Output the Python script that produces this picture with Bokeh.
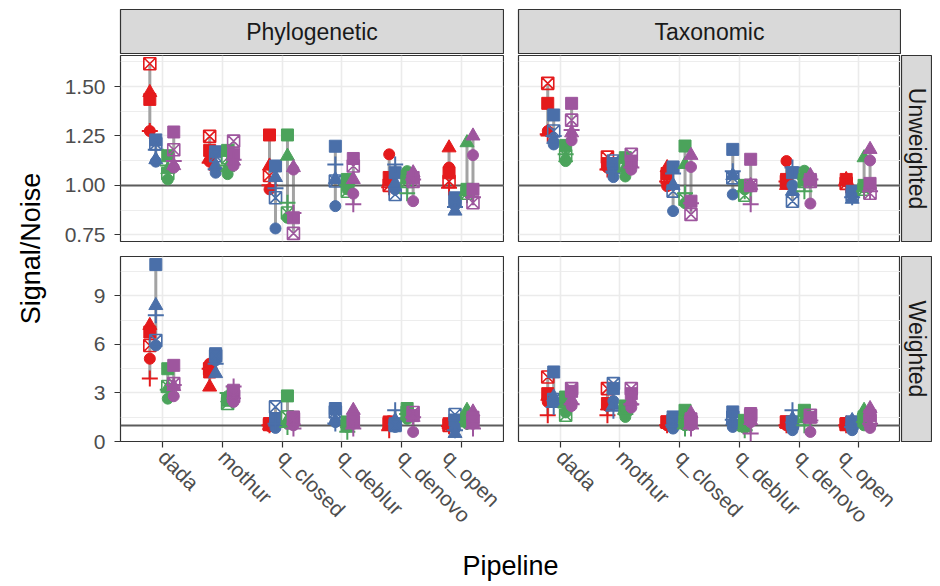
import math
import numpy as np
from bokeh.plotting import figure
from bokeh.models import (ColumnDataSource, FactorRange, Range1d, FixedTicker,
                          CategoricalTicker, Spacer, Label)
from bokeh.transform import dodge
from bokeh.layouts import row, column
from bokeh.embed import file_html
from bokeh.resources import INLINE

nan = float("nan")

pipelines = ["dada", "mothur", "q_closed", "q_deblur", "q_denovo", "q_open"]
metrics = ["Phylogenetic", "Taxonomic"]
weightings = ["Unweighted", "Weighted"]

# ---------------- Phylogenetic / Unweighted ----------------
PU_red_circle   = [1.275, 1.12, 0.98, nan, 1.157, 1.09]
PU_red_triangle = [1.47, 1.14, 1.098, nan, 1.02, 1.19]
PU_red_square   = [1.435, 1.177, 1.255, nan, 1.04, 1.064]
PU_red_plus     = [1.275, 1.115, 1.0, nan, 0.99, 0.988]
PU_red_sqx      = [1.615, 1.248, 1.05, nan, 1.0, 1.02]
PU_blue_circle   = [1.12, 1.064, 0.782, 0.895, 0.98, 0.9]
PU_blue_triangle = [1.13, 1.10, 1.04, 1.03, 1.01, 0.87]
PU_blue_square   = [1.23, 1.17, 1.098, 1.198, 1.064, 0.937]
PU_blue_plus     = [1.18, 1.082, 0.985, 1.106, 1.106, 0.89]
PU_blue_sqx      = [1.21, 1.15, 0.937, 1.022, 0.954, 0.92]
PU_green_circle   = [1.03, 1.057, 0.836, 0.98, 1.072, 0.97]
PU_green_triangle = [1.08, 1.09, 1.148, 1.02, 1.03, 1.216]
PU_green_square   = [1.15, 1.177, 1.255, 1.03, 1.045, 0.98]
PU_green_plus     = [1.10, 1.10, 0.912, 1.0, 0.96, 0.95]
PU_green_sqx      = [1.06, 1.14, 0.86, 0.97, 1.02, 0.96]
PU_purple_circle   = [1.09, 1.10, 1.08, 0.958, 0.92, 1.153]
PU_purple_triangle = [1.10, 1.123, 1.09, 1.03, 1.064, 1.25]
PU_purple_square   = [1.27, 1.158, 0.836, 1.136, 1.04, 0.98]
PU_purple_plus     = [1.123, 1.13, 0.86, 0.904, 1.03, 0.94]
PU_purple_sqx      = [1.18, 1.224, 0.757, 1.098, 1.02, 0.912]

# ---------------- Taxonomic / Unweighted ----------------
TU_red_circle   = [1.275, 1.09, 0.996, nan, 1.123, 1.02]
TU_red_triangle = [1.27, 1.10, 1.09, nan, 1.0, 1.03]
TU_red_square   = [1.415, 1.11, 1.06, nan, 1.03, 1.03]
TU_red_plus     = [1.258, 1.08, 1.02, nan, 1.02, 1.0]
TU_red_sqx      = [1.516, 1.143, 1.04, nan, 1.02, 1.01]
TU_blue_circle   = [1.207, 1.042, 0.87, 0.954, 1.0, 0.96]
TU_blue_triangle = [1.233, 1.08, 1.0, 1.05, 0.971, 0.93]
TU_blue_square   = [1.356, 1.11, 1.093, 1.182, 1.064, 0.97]
TU_blue_plus     = [1.25, 1.07, 1.06, 1.072, 1.09, 0.94]
TU_blue_sqx      = [1.275, 1.123, 0.971, 1.038, 0.92, 0.95]
TU_green_circle   = [1.123, 1.045, 0.91, 0.98, 1.074, 0.99]
TU_green_triangle = [1.14, 1.09, 1.106, 0.99, 1.05, 1.14]
TU_green_square   = [1.202, 1.14, 1.199, 1.0, 1.03, 1.0]
TU_green_plus     = [1.157, 1.07, 0.96, 0.97, 0.97, 0.97]
TU_green_sqx      = [1.15, 1.10, 0.93, 0.95, 1.02, 0.98]
TU_purple_circle   = [1.228, 1.08, 1.093, 0.996, 0.908, 1.126]
TU_purple_triangle = [1.266, 1.11, 1.152, 1.0, 1.05, 1.182]
TU_purple_square   = [1.415, 1.123, 0.92, 1.132, 1.03, 1.01]
TU_purple_plus     = [1.28, 1.09, 0.91, 0.904, 1.03, 0.97]
TU_purple_sqx      = [1.33, 1.157, 0.853, 1.0, 1.02, 0.96]

# ---------------- Phylogenetic / Weighted ----------------
PW_red_circle   = [5.12, 4.81, 0.95, nan, 1.25, 1.0]
PW_red_triangle = [7.18, 3.37, 1.0, nan, 1.0, 1.05]
PW_red_square   = [6.77, 4.3, 1.11, nan, 1.21, 1.1]
PW_red_plus     = [3.89, 4.5, 1.0, nan, 0.7, 0.95]
PW_red_sqx      = [5.94, 4.5, 1.05, nan, 1.1, 1.0]
PW_blue_circle   = [5.94, 5.02, 0.84, 1.2, 0.9, 0.8]
PW_blue_triangle = [8.41, 4.2, 1.2, 1.3, 1.3, 0.5]
PW_blue_square   = [10.94, 5.43, 1.42, 2.04, 1.1, 1.33]
PW_blue_plus     = [7.8, 4.81, 1.1, 1.11, 1.93, 0.7]
PW_blue_sqx      = [6.25, 5.3, 2.14, 1.83, 1.0, 1.67]
PW_green_circle   = [2.65, 2.8, 1.1, 0.9, 1.4, 1.1]
PW_green_triangle = [3.3, 2.7, 1.3, 1.1, 1.6, 1.93]
PW_green_square   = [4.5, 2.55, 2.82, 1.21, 2.04, 1.4]
PW_green_plus     = [3.2, 3.0, 0.9, 0.6, 1.7, 1.2]
PW_green_sqx      = [3.4, 2.35, 1.52, 1.0, 1.8, 1.3]
PW_purple_circle   = [2.8, 2.45, 1.0, 1.1, 0.59, 1.1]
PW_purple_triangle = [3.4, 2.9, 1.3, 1.93, 1.5, 1.83]
PW_purple_square   = [4.71, 3.17, 1.52, 1.4, 1.6, 1.5]
PW_purple_plus     = [3.5, 3.4, 0.8, 0.8, 1.5, 0.8]
PW_purple_sqx      = [3.58, 2.8, 1.4, 1.2, 1.79, 1.2]

# ---------------- Taxonomic / Weighted ----------------
TW_red_circle   = [2.45, 2.2, 1.0, nan, 1.0, 1.0]
TW_red_triangle = [2.8, 2.2, 1.1, nan, 1.1, 1.1]
TW_red_square   = [2.96, 2.35, 1.21, nan, 1.21, 1.11]
TW_red_plus     = [1.62, 1.62, 1.0, nan, 1.0, 1.0]
TW_red_sqx      = [3.99, 3.27, 1.2, nan, 1.2, 1.05]
TW_blue_circle   = [2.45, 2.5, 0.8, 0.9, 0.7, 0.7]
TW_blue_triangle = [2.75, 2.24, 1.1, 1.3, 1.4, 1.3]
TW_blue_square   = [4.3, 3.27, 1.52, 1.83, 1.11, 1.1]
TW_blue_plus     = [2.14, 1.9, 1.0, 1.34, 1.93, 0.9]
TW_blue_sqx      = [2.6, 3.58, 1.3, 1.5, 1.2, 1.2]
TW_green_circle   = [1.8, 1.52, 1.0, 0.84, 1.7, 1.0]
TW_green_triangle = [2.4, 2.04, 1.4, 1.1, 1.4, 1.93]
TW_green_square   = [2.75, 2.2, 1.93, 1.31, 1.93, 1.52]
TW_green_plus     = [2.1, 1.7, 0.8, 0.7, 1.0, 1.2]
TW_green_sqx      = [1.62, 2.0, 1.2, 1.0, 1.6, 1.3]
TW_purple_circle   = [2.2, 2.1, 1.0, 1.2, 0.59, 0.84]
TW_purple_triangle = [2.56, 2.5, 1.73, 1.3, 1.4, 2.04]
TW_purple_square   = [3.1, 2.96, 1.4, 1.73, 1.5, 1.6]
TW_purple_plus     = [2.3, 2.3, 0.8, 0.49, 1.3, 1.1]
TW_purple_sqx      = [3.27, 3.27, 1.2, 1.62, 1.62, 1.3]

# axis ranges / ticks
unw_range = (0.716, 1.657)
unw_ticks = [0.75, 1.00, 1.25, 1.50]
unw_minor = [0.875, 1.125, 1.375, 1.625]
w_range = (0.0, 11.44)
w_ticks = [0, 3, 6, 9]
w_minor = [1.5, 4.5, 7.5, 10.5]

group_names = ["red", "blue", "green", "purple"]
group_colors = ["#E41A1C", "#4A6FA9", "#4BA35B", "#9E569E"]
group_offsets = [-0.21, -0.11, 0.09, 0.19]
shape_names = ["circle", "triangle", "square", "plus", "sqx"]

FONT = "Liberation Sans"
TXT = "#1A1A1A"
AX = "#4D4D4D"
TICK_SIZE = "21px"
STRIP_SIZE = "23px"
TITLE_SIZE = "27px"


def panel_data(prefix):
    g = globals()
    out = []
    for gname in group_names:
        cols = {s: np.array(g[f"{prefix}_{gname}_{s}"], dtype=float) for s in shape_names}
        stack = np.vstack([cols[s] for s in shape_names])
        lo = np.min(np.where(np.isnan(stack), np.inf, stack), axis=0)
        hi = np.max(np.where(np.isnan(stack), -np.inf, stack), axis=0)
        cols["lo"] = np.where(np.isinf(lo), np.nan, lo)
        cols["hi"] = np.where(np.isinf(hi), np.nan, hi)
        cols["pipeline"] = pipelines
        out.append(ColumnDataSource(cols))
    return out


def make_panel(prefix, yr, ticks, minor, left, bottom, width, height,
               mb_left, mb_right, mb_top, mb_bottom):
    p = figure(width=width, height=height,
               x_range=FactorRange(*pipelines, range_padding=0.2,
                                   range_padding_units="absolute"),
               y_range=Range1d(*yr),
               output_backend="svg", toolbar_location=None,
               x_axis_location="below" if bottom else None,
               y_axis_location="left" if left else None,
               min_border_left=mb_left, min_border_right=mb_right,
               min_border_top=mb_top, min_border_bottom=mb_bottom,
               background_fill_color="white", border_fill_color="white",
               outline_line_color="#333333", outline_line_width=1.2)
    p.xgrid.ticker = CategoricalTicker()
    p.ygrid.ticker = FixedTicker(ticks=ticks, minor_ticks=minor)
    p.xgrid.grid_line_color = "#EBEBEB"
    p.xgrid.grid_line_width = 1.6
    p.ygrid.grid_line_color = "#EBEBEB"
    p.ygrid.grid_line_width = 1.6
    p.ygrid.minor_grid_line_color = "#EBEBEB"
    p.ygrid.minor_grid_line_width = 0.9
    if left:
        ax = p.yaxis[0]
        ax.ticker = FixedTicker(ticks=ticks, minor_ticks=minor)
        ax.axis_line_color = None
        ax.major_tick_line_color = "#333333"
        ax.major_tick_line_width = 1.2
        ax.major_tick_out = 6
        ax.major_tick_in = 0
        ax.minor_tick_line_color = None
        ax.major_label_text_font = FONT
        ax.major_label_text_font_size = TICK_SIZE
        ax.major_label_text_color = AX
        ax.major_label_standoff = 9
        if ticks == unw_ticks:
            ax.major_label_overrides = {t: f"{t:.2f}" for t in ticks}
    if bottom:
        ax = p.xaxis[0]
        ax.axis_line_color = None
        ax.major_tick_line_color = "#333333"
        ax.major_tick_line_width = 1.2
        ax.major_tick_out = 6
        ax.major_tick_in = 0
        ax.minor_tick_line_color = None
        ax.major_label_text_font = FONT
        ax.major_label_text_font_size = TICK_SIZE
        ax.major_label_text_color = AX
        ax.major_label_orientation = -math.pi / 4
        ax.major_label_standoff = 6

    sources = panel_data(prefix)
    for src, off in zip(sources, group_offsets):
        xd = dodge("pipeline", off, range=p.x_range)
        p.segment(x0=xd, y0="lo", x1=xd, y1="hi", source=src,
                  line_color="#A3A3A3", line_width=3)
    p.hspan(y=[1.0], line_color="#5C5C5C", line_width=2)
    for src, off, col in zip(sources, group_offsets, group_colors):
        xd = dodge("pipeline", off, range=p.x_range)
        p.scatter(x=xd, y="circle", source=src, marker="circle", size=11,
                  fill_color=col, line_color=col)
        p.scatter(x=xd, y="triangle", source=src, marker="triangle", size=14,
                  fill_color=col, line_color=col)
        p.scatter(x=xd, y="square", source=src, marker="square", size=12,
                  fill_color=col, line_color=col)
        p.scatter(x=xd, y="plus", source=src, marker="cross", size=16,
                  fill_color=None, line_color=col, line_width=2)
        p.scatter(x=xd, y="sqx", source=src, marker="square_x", size=12,
                  fill_color=None, line_color=col, line_width=1.6)
    return p


def strip(text, width, height, vertical, mb):
    s = figure(width=width, height=height, x_range=Range1d(0, 1), y_range=Range1d(0, 1),
               output_backend="svg", toolbar_location=None,
               x_axis_location=None, y_axis_location=None,
               min_border_left=mb[0], min_border_right=mb[1],
               min_border_top=mb[2], min_border_bottom=mb[3],
               background_fill_color="#D9D9D9", border_fill_color="white",
               outline_line_color="#333333", outline_line_width=1.2)
    s.grid.visible = False
    s.add_layout(Label(x=0.5, y=0.5, text=text, text_align="center",
                       text_baseline="middle", text_font=FONT,
                       text_font_size=STRIP_SIZE, text_color=TXT,
                       angle=(-math.pi / 2 if vertical else 0)))
    return s


def title_fig(text, width, height, x, y, angle):
    t = figure(width=width, height=height, x_range=Range1d(0, width),
               y_range=Range1d(0, height), output_backend="svg",
               toolbar_location=None, x_axis_location=None, y_axis_location=None,
               min_border=0, outline_line_color=None, border_fill_color="white")
    t.grid.visible = False
    t.add_layout(Label(x=x, y=y, text=text, text_align="center",
                       text_baseline="middle", text_font=FONT,
                       text_font_size=TITLE_SIZE, text_color="black", angle=angle))
    return t


tl = make_panel("PU", unw_range, unw_ticks, unw_minor, True, False, 451, 195, 67, 1, 1, 8)
tr = make_panel("TU", unw_range, unw_ticks, unw_minor, False, False, 396, 195, 14, 0, 1, 8)
bl = make_panel("PW", w_range, w_ticks, w_minor, True, True, 451, 289, 67, 1, 7, 97)
br = make_panel("TW", w_range, w_ticks, w_minor, False, True, 396, 289, 14, 0, 7, 97)

s_phy = strip(metrics[0], 385, 46, False, (1, 1, 1, 1))
s_tax = strip(metrics[1], 384, 46, False, (1, 1, 1, 1))
s_unw = strip(weightings[0], 32, 195, True, (1, 1, 1, 8))
s_w = strip(weightings[1], 32, 289, True, (1, 1, 7, 97))

ytitle = title_fig("Signal/Noise", 53, 584, 30, 336, math.pi / 2)
xtitle = title_fig("Pipeline", 879, 46, 457, 19, 0)

main = column(
    Spacer(width=879, height=8),
    row(Spacer(width=66, height=46), s_phy, Spacer(width=13, height=46), s_tax,
        Spacer(width=31, height=46)),
    row(tl, tr, s_unw),
    row(bl, br, s_w),
    xtitle,
)
layout = row(ytitle, main)

open("out.html", "w").write(file_html(layout, INLINE))
